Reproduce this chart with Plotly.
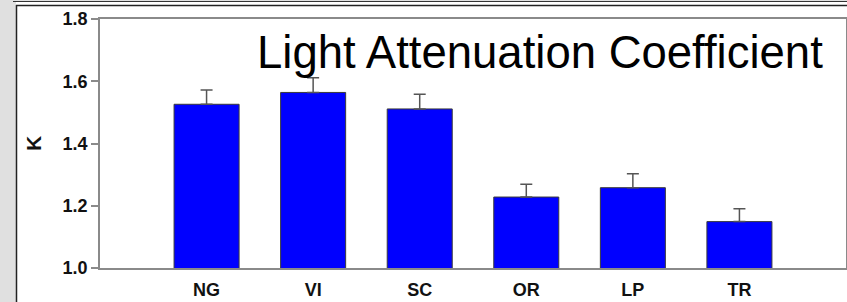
import plotly.graph_objects as go

categories = ["NG", "VI", "SC", "OR", "LP", "TR"]
k_values = [1.526, 1.564, 1.511, 1.228, 1.258, 1.149]
k_errors = [0.046, 0.047, 0.047, 0.041, 0.045, 0.041]
y_ticks = [1.0, 1.2, 1.4, 1.6, 1.8]
title_text = "Light Attenuation Coefficient"
y_label = "K"

W, H = 847, 302
L, R, T, B = 100, 1, 19, 34
PW, PH = W - L - R, H - T - B


def px(xp):
    return (xp - L) / PW


def py(yp):
    return (H - B - yp) / PH


fig = go.Figure()
fig.add_trace(go.Bar(
    x=categories, y=k_values, width=0.61,
    marker=dict(color="#0000FF", line=dict(color="#3a3a3a", width=1)),
    error_y=dict(type="data", array=k_errors, arrayminus=[0] * len(k_errors),
                 symmetric=False, color="#555555", thickness=1.5, width=6),
    showlegend=False,
))

axis_font = dict(family="Liberation Sans, Arial, sans-serif", size=18,
                 color="#111111", weight="bold")

fig.update_layout(
    width=W, height=H,
    margin=dict(l=L, r=R, t=T, b=B, pad=0, autoexpand=False),
    paper_bgcolor="white", plot_bgcolor="white",
    xaxis=dict(range=[-1, 6], showline=True, linecolor="#8a8a8a", linewidth=1.5,
               mirror=True, ticks="", tickfont=axis_font, ticklabelstandoff=5,
               showgrid=False, zeroline=False, fixedrange=True, automargin=False),
    yaxis=dict(range=[1.0, 1.8], tickvals=y_ticks, tickformat=".1f",
               showline=True, linecolor="#8a8a8a", linewidth=1.5, mirror=True,
               ticks="outside", ticklen=7, tickcolor="#8a8a8a", tickwidth=1.5,
               tickfont=axis_font, showgrid=False, zeroline=False, automargin=False,
               title=dict(text=y_label, standoff=15,
                          font=dict(family="Liberation Sans, Arial, sans-serif",
                                    size=21, color="#111111", weight="bold"))),
    annotations=[dict(
        text=title_text, xref="paper", yref="paper",
        x=px(255), y=py(52.5), xanchor="left", yanchor="middle",
        showarrow=False,
        font=dict(family="Liberation Sans, Arial, sans-serif", size=45.5, color="#000000"),
    )],
    shapes=[
        # gray surround on the left and top
        dict(type="rect", xref="paper", yref="paper", x0=px(0), x1=px(16),
             y0=py(0), y1=py(H), fillcolor="#e0e0e0", line=dict(width=0), layer="below"),
        dict(type="rect", xref="paper", yref="paper", x0=px(0), x1=px(W),
             y0=py(0), y1=py(1), fillcolor="#e0e0e0", line=dict(width=0), layer="below"),
        # double frame lines
        dict(type="line", xref="paper", yref="paper", x0=px(13), x1=px(W),
             y0=py(1.5), y1=py(1.5), line=dict(color="#333333", width=1)),
        dict(type="line", xref="paper", yref="paper", x0=px(16), x1=px(W),
             y0=py(5.5), y1=py(5.5), line=dict(color="#222222", width=1.5)),
        dict(type="line", xref="paper", yref="paper", x0=px(16.5), x1=px(16.5),
             y0=py(5), y1=py(H), line=dict(color="#222222", width=1.5)),
    ],
)

fig.write_html("out.html", config={"displayModeBar": False},
               post_script="document.body.style.margin='0';document.body.style.overflow='hidden';")
